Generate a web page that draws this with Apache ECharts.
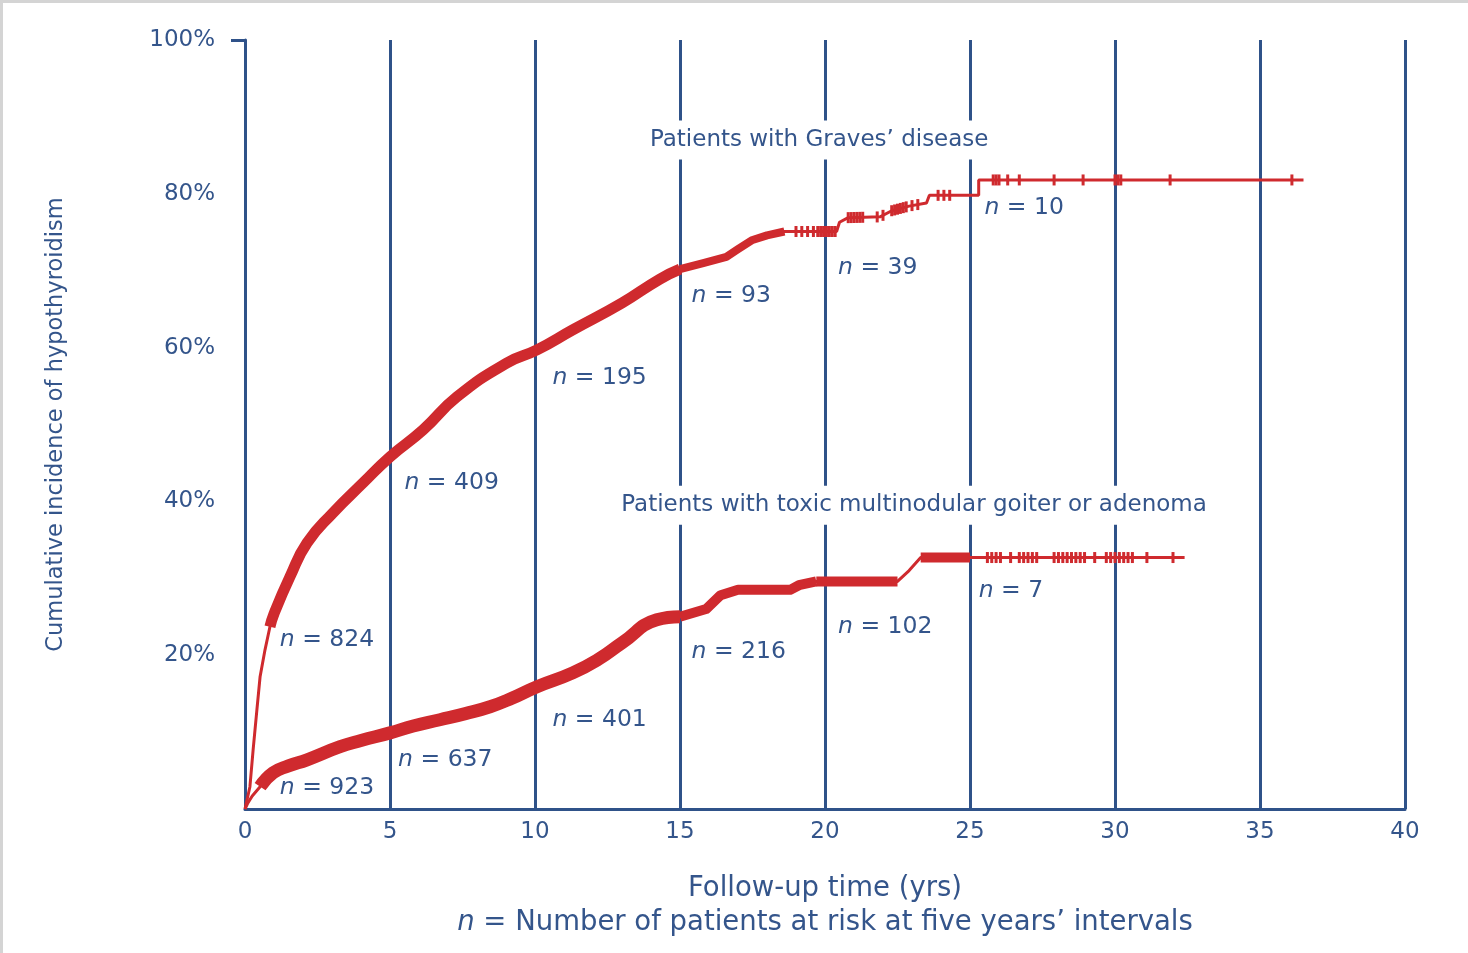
<!DOCTYPE html>
<html>
<head>
<meta charset="utf-8">
<script src="https://cdn.jsdelivr.net/npm/echarts@6/dist/echarts.min.js"></script>
<style>
  html, body { margin: 0; padding: 0; background: #fff; }
  #chart { width: 1468px; height: 953px; }
  #frame { position: absolute; left: 0; top: 0; width: 1468px; height: 953px; box-sizing: border-box;
           border-top: 3px solid #d4d4d4; border-left: 3px solid #d4d4d4; pointer-events: none; }
</style>
</head>
<body>
<div id="chart"></div>
<div id="frame"></div>
<script>
// ---------------- data ----------------
const yTickValues = [20, 40, 60, 80, 100];

// Kaplan–Meier style cumulative incidence curves: [years, %]
const gravesCurve = [
  [0, 0], [0.17, 2.9], [0.28, 7.7], [0.41, 12.9], [0.52, 17.2], [0.69, 20.7], [0.86, 23.7],
  [1.0, 25.4], [1.55, 30.2], [2.14, 34.6], [3.03, 38.5], [4.07, 42.4], [5.0, 45.8], [6.14, 49.3],
  [7.31, 53.6], [9.03, 58.0], [10.07, 59.7], [11.3, 62.3], [13.0, 65.8], [14.3, 68.9], [15.0, 70.2],
  [15.8, 71.0], [16.6, 71.8], [17.0, 72.8], [17.5, 74.0], [18.0, 74.6], [18.6, 75.1], [20.4, 75.1],
  [20.5, 76.3], [20.8, 76.9], [21.9, 77.0], [22.3, 77.8], [22.9, 78.4], [23.5, 78.8], [23.6, 79.8],
  [25.3, 79.8], [25.3, 81.8], [36.5, 81.8]
];
const toxicCurve = [
  [0, 0], [0.1, 0.8], [0.25, 1.7], [0.52, 2.9], [0.97, 4.7], [1.5, 5.6], [2.14, 6.4], [3.28, 8.1],
  [4.0, 8.9], [5.0, 9.9], [5.8, 10.8], [6.72, 11.6], [7.6, 12.4], [8.45, 13.3], [9.2, 14.4],
  [10.07, 15.9], [11.3, 17.7], [12.2, 19.5], [13.0, 21.6], [14.2, 24.6], [15.0, 25.0], [15.9, 26.0],
  [16.4, 27.8], [17.0, 28.5], [18.8, 28.5], [19.1, 29.1], [19.7, 29.6], [22.5, 29.6], [22.9, 31.0],
  [23.3, 32.7], [32.4, 32.7]
];

// censoring times (years) read from the "+" marks
const gravesCensor = [
  19.0, 19.2, 19.4, 19.6, 19.75, 19.85, 19.95, 20.05, 20.15, 20.25, 20.35,
  20.8, 20.9, 21.0, 21.1, 21.2, 21.3, 21.8, 22.0, 22.3, 22.4, 22.5, 22.6, 22.7, 22.8,
  23.0, 23.2, 23.9, 24.1, 24.3, 25.8, 25.9, 26.0, 26.3, 26.7, 27.9, 28.9, 30.0, 30.1, 30.2, 31.9, 36.1
];
const toxicCensor = [
  25.6, 25.75, 25.9, 26.05, 26.4, 26.7, 26.85, 27.0, 27.15, 27.3, 27.9, 28.05, 28.2, 28.35,
  28.5, 28.65, 28.8, 28.95, 29.3, 29.7, 29.85, 30.0, 30.15, 30.3, 30.45, 30.6, 31.1, 32.0
];

// numbers at risk at five-year intervals
const riskYears = [0, 5, 10, 15, 20, 25];
const gravesAtRisk = [824, 409, 195, 93, 39, 10];
const toxicAtRisk = [923, 637, 401, 216, 102, 7];

// text
const curveNames = ["Patients with Graves\u2019 disease", "Patients with toxic multinodular goiter or adenoma"];
const yTitle = "Cumulative incidence of hypothyroidism";
const xTitle = "Follow-up time (yrs)";
const xSubtitle = " = Number of patients at risk at five years\u2019 intervals";

// ---------------- layout / style ----------------
const BLUE = '#2f5289';
const TEXT = '#34558b';
const RED = '#cf2a2e';
const FONT = 'DejaVu Sans';

// anchor positions (data units) for annotation text
const gravesLabelPos = [[1.2, 22.0], [5.5, 42.4], [10.6, 56.0], [15.4, 66.7], [20.45, 70.4], [25.5, 78.2]];
const toxicLabelPos  = [[1.2, 2.7], [5.28, 6.4], [10.6, 11.6], [15.4, 20.4], [20.45, 23.7], [25.3, 28.3]];
const curveLabelPos  = [[19.8, 87.0], [23.07, 39.5]];

function valueAt(curve, x) {
  for (let i = curve.length - 1; i >= 0; i--) {
    if (curve[i][0] <= x) {
      if (i === curve.length - 1) return curve[i][1];
      const a = curve[i], b = curve[i + 1];
      if (b[0] === a[0]) return b[1];
      return a[1] + (b[1] - a[1]) * (x - a[0]) / (b[0] - a[0]);
    }
  }
  return 0;
}
function band(curve, x0, x1) {
  return curve.filter(p => p[0] >= x0 && p[0] <= x1);
}

const chart = echarts.init(document.getElementById('chart'), null, { renderer: 'canvas' });

const lineBase = { type: 'line', showSymbol: false, symbol: 'none', silent: true, animation: false, z: 3 };
const markSeries = (curve, times) => ({
  type: 'scatter', silent: true, animation: false, z: 4,
  symbol: 'rect', symbolSize: [3, 11],
  itemStyle: { color: RED, opacity: 1 },
  data: times.map(t => [t, valueAt(curve, t)])
});
const riskLabelSeries = (counts, pos) => ({
  type: 'scatter', silent: true, animation: false, z: 6, symbolSize: 0,
  itemStyle: { opacity: 1 },
  data: counts.map((c, i) => ({ value: pos[i], name: String(c) })),
  label: {
    show: true, position: 'right', distance: 0, opacity: 1,
    formatter: p => '{i|n} = ' + p.name,
    color: TEXT, fontFamily: FONT, fontSize: 23.5,
    rich: { i: { fontStyle: 'italic', color: TEXT, fontFamily: FONT, fontSize: 23.5 } }
  }
});
const bandStyle = w => ({ color: RED, width: w, cap: 'butt', join: 'round' });

const option = {
  backgroundColor: '#ffffff',
  animation: false,
  grid: { left: 245, right: 63, top: 40, bottom: 144, containLabel: false },
  xAxis: {
    type: 'value', min: 0, max: 40, interval: 5,
    axisLine: { show: true, lineStyle: { color: BLUE, width: 3 } },
    axisTick: { show: false },
    splitLine: { show: true, lineStyle: { color: BLUE, width: 3 } },
    axisLabel: { color: TEXT, fontFamily: FONT, fontSize: 23, margin: 12 },
    name: xTitle + '\n{i|n}' + xSubtitle,
    nameLocation: 'middle', nameGap: 63,
    nameTextStyle: {
      color: TEXT, fontFamily: FONT, fontSize: 27.5, lineHeight: 34, align: 'center',
      rich: { i: { fontStyle: 'italic', color: TEXT, fontFamily: FONT, fontSize: 27.5, lineHeight: 34 } }
    }
  },
  yAxis: {
    type: 'value', min: 0, max: 100, interval: 20,
    axisLine: { show: true, lineStyle: { color: BLUE, width: 3 } },
    axisTick: { show: true, customValues: [100], length: 14, lineStyle: { color: BLUE, width: 3 } },
    splitLine: { show: false },
    axisLabel: {
      customValues: yTickValues, formatter: '{value}%',
      color: TEXT, fontFamily: FONT, fontSize: 23, margin: 30
    },
    name: yTitle, nameLocation: 'middle', nameGap: 177, nameRotate: 90,
    nameTextStyle: { color: TEXT, fontFamily: FONT, fontSize: 22.5 }
  },
  series: [
    // thin curves
    Object.assign({}, lineBase, { data: gravesCurve, lineStyle: { color: RED, width: 3 } }),
    Object.assign({}, lineBase, { data: toxicCurve, lineStyle: { color: RED, width: 3 } }),
    // dense censoring regions (marks overlap into a band)
    Object.assign({}, lineBase, { data: band(gravesCurve, 0.86, 15.0), smooth: 0.5, lineStyle: bandStyle(11) }),
    Object.assign({}, lineBase, { data: band(gravesCurve, 15.0, 18.6), lineStyle: bandStyle(8) }),
    Object.assign({}, lineBase, { data: band(toxicCurve, 0.52, 15.0), smooth: 0.5, lineStyle: bandStyle(13) }),
    Object.assign({}, lineBase, { data: band(toxicCurve, 15.0, 19.7), lineStyle: bandStyle(10) }),
    Object.assign({}, lineBase, { data: band(toxicCurve, 19.7, 22.5), lineStyle: bandStyle(10) }),
    Object.assign({}, lineBase, { data: [[23.3, 32.7], [25.0, 32.7]], lineStyle: bandStyle(10) }),
    markSeries(gravesCurve, gravesCensor),
    markSeries(toxicCurve, toxicCensor),
    riskLabelSeries(gravesAtRisk, gravesLabelPos),
    riskLabelSeries(toxicAtRisk, toxicLabelPos),
    {
      type: 'scatter', silent: true, animation: false, z: 2, symbolSize: 0,
      itemStyle: { opacity: 1 },
      data: curveNames.map((n, i) => ({ value: curveLabelPos[i], name: n })),
      label: {
        show: true, position: 'inside', formatter: p => p.name, opacity: 1,
        color: TEXT, fontFamily: FONT, fontSize: 23,
        backgroundColor: '#ffffff', padding: [8, 4]
      }
    }
  ]
};
chart.setOption(option);
</script>
</body>
</html>
